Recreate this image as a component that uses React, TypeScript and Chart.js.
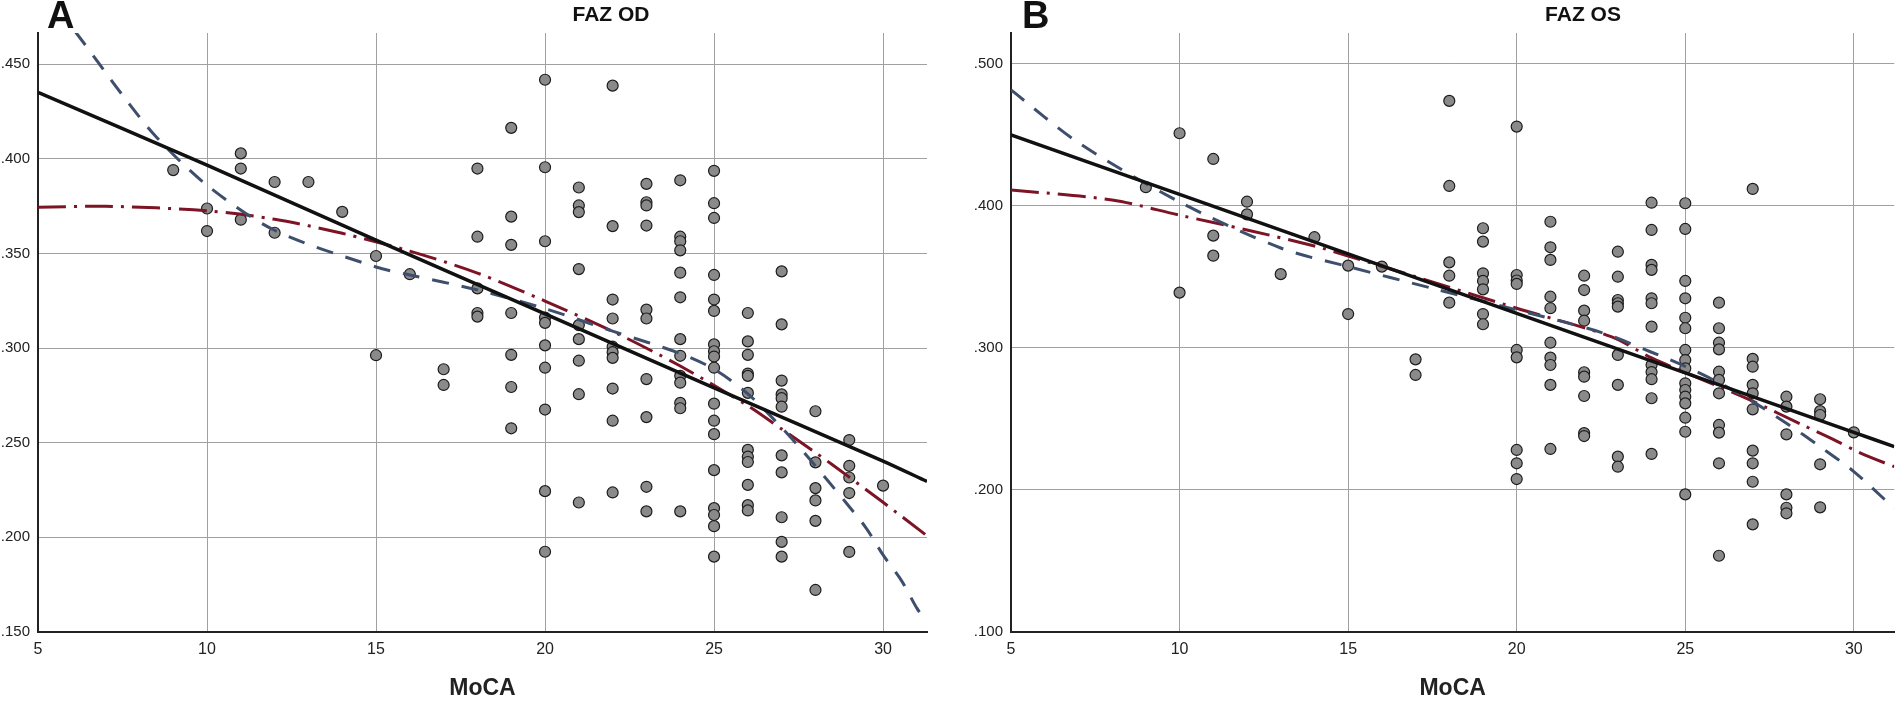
import React, { useEffect, useRef } from 'react';
import { Chart, registerables } from 'chart.js';

Chart.register(...registerables);

const FONT = '"Liberation Sans", Arial, sans-serif';

// ---- Panel A: FAZ OD vs MoCA ----
const odScores = [9, 10, 11, 12, 13, 14, 15, 16, 17, 18, 19, 20, 21, 22, 23, 24, 25, 26, 27, 28, 29, 30];
const odFaz = [
  [0.394],
  [0.3737, 0.3618],
  [0.4028, 0.3948, 0.3678],
  [0.3877, 0.3609],
  [0.3877],
  [0.3719],
  [0.3486, 0.2962],
  [0.339],
  [0.2888, 0.2805],
  [0.3948, 0.3588, 0.3315, 0.3185, 0.3166],
  [0.4163, 0.3694, 0.3545, 0.3185, 0.2964, 0.2794, 0.2576],
  [0.4417, 0.3955, 0.3564, 0.3161, 0.3133, 0.3014, 0.2896, 0.2675, 0.2244, 0.1924],
  [0.3848, 0.3753, 0.3718, 0.3417, 0.3121, 0.3047, 0.2933, 0.2756, 0.2184],
  [0.4386, 0.3644, 0.3256, 0.3156, 0.3007, 0.2978, 0.2948, 0.2786, 0.2616, 0.2237],
  [0.3867, 0.377, 0.3753, 0.3647, 0.3203, 0.3156, 0.2836, 0.2635, 0.2267, 0.2137],
  [0.3886, 0.3588, 0.3564, 0.3516, 0.3398, 0.3268, 0.3047, 0.2959, 0.2853, 0.2817, 0.271, 0.2682, 0.2137],
  [0.3936, 0.3765, 0.3687, 0.3386, 0.3256, 0.3196, 0.3019, 0.2983, 0.2955, 0.2896, 0.2706, 0.2616, 0.2545, 0.2355, 0.2154, 0.2118, 0.2059, 0.1898],
  [0.3185, 0.3035, 0.2964, 0.2865, 0.2853, 0.2763, 0.2462, 0.2426, 0.2398, 0.2277, 0.217, 0.2142],
  [0.3405, 0.3125, 0.2828, 0.2755, 0.2735, 0.269, 0.2433, 0.2343, 0.2106, 0.1976, 0.1898],
  [0.2666, 0.2396, 0.226, 0.2195, 0.2087, 0.1722],
  [0.2514, 0.2378, 0.2316, 0.2234, 0.1923],
  [0.2273],
];
// fit curves
const odLinX = [5, 10, 15, 20, 25, 30, 31.3];
const odLinY = [0.435, 0.3966, 0.357, 0.318, 0.279, 0.2403, 0.2295];
const odQuadX = [5, 7, 10, 12, 14, 16, 18, 20, 22, 24, 26, 27, 28, 29, 30, 31.3];
const odQuadY = [0.3743, 0.3749, 0.3725, 0.368, 0.3606, 0.3512, 0.3396, 0.3248, 0.3088, 0.2905, 0.2695, 0.2572, 0.2448, 0.2318, 0.2185, 0.2008];
const odCubX = [5, 6.15, 7.5, 8.5, 10, 12, 15, 16, 18, 20, 22, 24, 25, 26, 27, 27.7, 28.3, 28.9, 29.5, 30, 30.55, 31, 31.3];
const odCubY = [0.492, 0.466, 0.4336, 0.4115, 0.386, 0.3622, 0.3428, 0.3386, 0.3307, 0.3208, 0.3089, 0.2971, 0.2888, 0.2758, 0.258, 0.244, 0.2313, 0.2184, 0.2049, 0.1907, 0.177, 0.1626, 0.155];

// ---- Panel B: FAZ OS vs MoCA ----
const osScores = [9, 10, 11, 12, 13, 14, 15, 16, 17, 18, 19, 20, 21, 22, 23, 24, 25, 26, 27, 28, 29, 30];
const osFaz = [
  [0.4132],
  [0.4512, 0.339],
  [0.4331, 0.3791, 0.365],
  [0.403, 0.3941],
  [0.352],
  [0.378],
  [0.358, 0.3239],
  [0.3573],
  [0.292, 0.281],
  [0.474, 0.4141, 0.3603, 0.3509, 0.3319],
  [0.3843, 0.3749, 0.3526, 0.3472, 0.3413, 0.3239, 0.3167],
  [0.4559, 0.3514, 0.3475, 0.3451, 0.2986, 0.2934, 0.2282, 0.2188, 0.2077],
  [0.3889, 0.3709, 0.362, 0.3361, 0.328, 0.3037, 0.2932, 0.288, 0.274, 0.2289],
  [0.3509, 0.3408, 0.3263, 0.3192, 0.2829, 0.2798, 0.2662, 0.24, 0.238],
  [0.3678, 0.3502, 0.3338, 0.3315, 0.3291, 0.2951, 0.274, 0.2235, 0.2164],
  [0.4023, 0.3831, 0.3585, 0.355, 0.335, 0.3315, 0.315, 0.288, 0.283, 0.278, 0.2646, 0.2254],
  [0.4019, 0.3838, 0.3472, 0.335, 0.3213, 0.3139, 0.2986, 0.2915, 0.2857, 0.2751, 0.2704, 0.2657, 0.261, 0.2509, 0.241, 0.1969],
  [0.3319, 0.3139, 0.3037, 0.299, 0.2833, 0.2775, 0.2681, 0.2458, 0.2404, 0.2188, 0.1537],
  [0.412, 0.2923, 0.2868, 0.274, 0.2681, 0.2568, 0.2277, 0.2188, 0.2058, 0.1758],
  [0.2657, 0.2587, 0.2392, 0.1969, 0.1875, 0.1836],
  [0.2639, 0.2555, 0.2528, 0.2181, 0.1878],
  [0.2406],
];
const osLinX = [5, 15, 30, 31.2];
const osLinY = [0.45, 0.3662, 0.2406, 0.2305];
const osQuadX = [5, 8, 10, 12, 14, 15, 17, 20, 22.8, 24, 26, 27, 28.5, 29.4, 30.2, 31.2];
const osQuadY = [0.4113, 0.4042, 0.3935, 0.3831, 0.3718, 0.3648, 0.3502, 0.328, 0.308, 0.293, 0.2728, 0.2625, 0.2455, 0.2355, 0.226, 0.2164];
const osCubX = [5, 7, 10, 13, 15, 17.5, 20, 22.5, 24, 25, 26, 27, 28, 29, 30, 31.2];
const osCubY = [0.4817, 0.4446, 0.4028, 0.3704, 0.3573, 0.342, 0.3268, 0.311, 0.297, 0.287, 0.2755, 0.2622, 0.247, 0.2305, 0.213, 0.187];

const pts = (xs: number[], ys: number[]) => xs.map((x, i) => ({ x, y: ys[i] }));
const scatterPts = (scores: number[], faz: number[][]) =>
  scores.flatMap((s, i) => faz[i].map((y) => ({ x: s, y })));

interface PanelProps {
  left: number;
  width: number;
  axisWidth: number;
  padRight: number;
  titleX: number;
  letterX: number;
  letter: string;
  title: string;
  xMax: number;
  yMin: number;
  yMax: number;
  yStep: number;
  scores: number[];
  faz: number[][];
  lin: { x: number; y: number }[];
  quad: { x: number; y: number }[];
  cub: { x: number; y: number }[];
}

const Panel: React.FC<PanelProps> = (p) => {
  const ref = useRef<HTMLCanvasElement>(null);

  useEffect(() => {
    if (!ref.current) return;
    const fitLine = (data: any, color: string, dash: number[], width: number) => ({
      type: 'line' as const,
      data,
      showLine: true,
      borderColor: color,
      borderWidth: width,
      borderDash: dash,
      pointRadius: 0,
      tension: 0.3,
      fill: false,
      order: 0,
    });

    const chart = new Chart(ref.current, {
      type: 'scatter',
      data: {
        datasets: [
          fitLine(p.lin, '#111111', [], 3.5),
          fitLine(p.cub, '#3e4f6e', [17, 13], 3),
          fitLine(p.quad, '#7c1426', [28, 8, 3, 8], 3),
          {
            type: 'scatter',
            data: scatterPts(p.scores, p.faz),
            pointRadius: 5.5,
            backgroundColor: '#8a8a8a',
            borderColor: '#1c1c1c',
            borderWidth: 1.2,
            order: 1,
          },
        ] as any,
      },
      options: {
        responsive: false,
        animation: false,
        events: [],
        layout: { padding: { top: 33, right: p.padRight, left: 0, bottom: 0 } },
        plugins: { legend: { display: false }, tooltip: { enabled: false } },
        scales: {
          x: {
            type: 'linear',
            min: 5,
            max: p.xMax,
            ticks: {
              stepSize: 5,
              includeBounds: false,
              padding: 8,
              color: '#222',
              font: { family: FONT, size: 16 },
            },
            grid: { color: '#a0a0a0', lineWidth: 1, drawTicks: false },
            border: { display: true, color: '#222', width: 2 },
            title: {
              display: true,
              text: 'MoCA',
              color: '#222',
              font: { family: FONT, size: 23, weight: 'bold' },
              padding: { top: 0, bottom: 2 },
            },
            afterFit: (s: any) => {
              s.height = 72;
            },
          },
          y: {
            type: 'linear',
            min: p.yMin,
            max: p.yMax,
            ticks: {
              stepSize: p.yStep,
              includeBounds: false,
              padding: 8,
              color: '#222',
              font: { family: FONT, size: 15 },
              callback: (v: any) => Number(v).toFixed(3).replace(/^0/, ''),
            },
            grid: { color: '#a0a0a0', lineWidth: 1, drawTicks: false },
            border: { display: true, color: '#222', width: 2 },
            afterFit: (s: any) => {
              s.width = p.axisWidth;
            },
          },
        },
      },
      plugins: [
        {
          id: 'panelText',
          afterDraw(c: any) {
            const ctx = c.ctx;
            ctx.save();
            ctx.fillStyle = '#111';
            ctx.textAlign = 'left';
            ctx.textBaseline = 'alphabetic';
            ctx.font = `bold 38px ${FONT}`;
            ctx.fillText(p.letter, p.letterX, 28);
            ctx.textAlign = 'center';
            ctx.textBaseline = 'middle';
            ctx.font = `bold 21px ${FONT}`;
            ctx.fillText(p.title, p.titleX, 15);
            ctx.restore();
          },
        },
      ],
    });

    return () => chart.destroy();
  }, [p]);

  return (
    <canvas
      ref={ref}
      width={p.width}
      height={704}
      style={{ position: 'absolute', left: p.left, top: 0, width: p.width, height: 704 }}
    />
  );
};

const panelA: PanelProps = {
  left: 0,
  width: 955,
  axisWidth: 38,
  padRight: 28,
  titleX: 611,
  letterX: 47,
  letter: 'A',
  title: 'FAZ OD',
  xMax: 31.3,
  yMin: 0.15,
  yMax: 0.4664,
  yStep: 0.05,
  scores: odScores,
  faz: odFaz,
  lin: pts(odLinX, odLinY),
  quad: pts(odQuadX, odQuadY),
  cub: pts(odCubX, odCubY),
};

const panelB: PanelProps = {
  left: 955,
  width: 946,
  axisWidth: 56,
  padRight: 4,
  titleX: 628,
  letterX: 67,
  letter: 'B',
  title: 'FAZ OS',
  xMax: 31.2,
  yMin: 0.1,
  yMax: 0.5218,
  yStep: 0.1,
  scores: osScores,
  faz: osFaz,
  lin: pts(osLinX, osLinY),
  quad: pts(osQuadX, osQuadY),
  cub: pts(osCubX, osCubY),
};

export default function App() {
  return (
    <div style={{ position: 'absolute', left: 0, top: 0, width: 1901, height: 704, background: '#fff' }}>
      <Panel {...panelA} />
      <Panel {...panelB} />
    </div>
  );
}
